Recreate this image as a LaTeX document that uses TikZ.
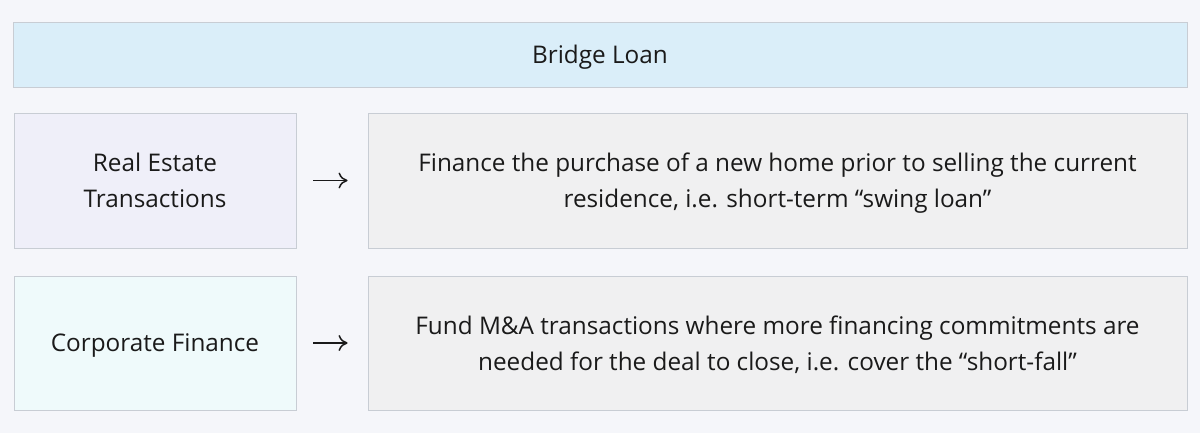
\documentclass[tikz,border=0pt]{standalone}
\usepackage{fontspec}
\setmainfont{Open Sans}
\usetikzlibrary{arrows.meta}
\definecolor{pagebg}{RGB}{245,246,250}
\definecolor{edgegray}{RGB}{200,205,212}
\definecolor{titleblue}{RGB}{218,238,249}
\definecolor{lavender}{RGB}{239,239,249}
\definecolor{paleaqua}{RGB}{239,250,251}
\definecolor{boxgray}{RGB}{240,240,241}
\definecolor{inkdark}{RGB}{26,26,26}
\tikzset{
	panel/.style={
			draw=edgegray, line width=0.9pt, inner sep=0pt, align=center, text depth=0pt,
			text=inkdark, font=\fontsize{24.3}{36}\selectfont
		},
	usecase/.style={panel, minimum width=282pt, minimum height=135pt},
	purpose/.style={panel, fill=boxgray, minimum width=819pt, minimum height=135pt},
	leadsto/.style={-{To[length=9pt,width=16pt]}, line width=1.5pt, draw=inkdark,
			shorten <=17pt, shorten >=20pt}
}

\begin{document}
\begin{tikzpicture}[x=1pt, y=-1pt]
        \fill [pagebg] (0, 0) rectangle (1200, 433);
        \useasboundingbox (0, 0) rectangle (1200, 433);
        \node [panel, fill=titleblue, minimum width=1174pt, minimum height=65pt] (title) at (600, 54.5) {Bridge Loan};
        \node [usecase, fill=lavender] (realestate) at (155, 180.5) {Real Estate\\Transactions};
        \node [purpose] (swing) at (777.5, 180.5) {Finance the purchase of a new home prior to selling the current\\residence, i.e. short-term “swing loan”};
        \node [usecase, fill=paleaqua, minimum height=134pt] (corporate) at (155, 343) {Corporate Finance};
        \node [purpose, minimum height=134pt] (shortfall) at (777.5, 343) {Fund M\&A transactions where more financing commitments are\\needed for the deal to close, i.e. cover the “short-fall”};
        \draw [leadsto] (realestate.east) -- (swing.west);
        \draw [leadsto] (corporate.east) -- (shortfall.west);
    \end{tikzpicture}
\end{document}
